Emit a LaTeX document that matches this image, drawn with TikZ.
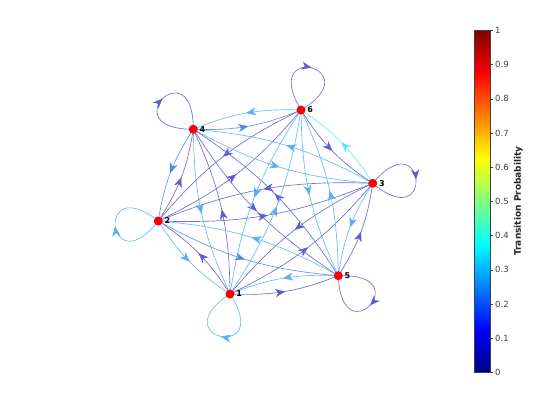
\documentclass[tikz,border=0pt]{standalone}
\usepackage{fontspec}
\setmainfont{DejaVu Sans}
\usetikzlibrary{arrows.meta,decorations.markings,calc}

\definecolor{eD}{RGB}{110,110,216}
\definecolor{eDa}{RGB}{94,94,206}
\definecolor{eM}{RGB}{96,148,240}
\definecolor{eMa}{RGB}{82,134,232}
\definecolor{eL}{RGB}{102,186,255}
\definecolor{eLa}{RGB}{90,174,248}
\definecolor{eC}{RGB}{112,236,242}
\definecolor{eCa}{RGB}{98,228,236}
\definecolor{jet0}{rgb}{0,0,0.5}
\definecolor{jet1}{rgb}{0,0,1}
\definecolor{jet2}{rgb}{0,1,1}
\definecolor{jet3}{rgb}{1,1,0}
\definecolor{jet4}{rgb}{1,0,0}
\definecolor{jet5}{rgb}{0.5,0,0}
\definecolor{tickgray}{RGB}{64,64,64}

\tikzset{
  tipD/.style={postaction={decorate,decoration={markings,mark=at position 0.5 with {\arrow[eDa]{Stealth[length=10pt,width=8pt,inset=3pt]}}}}},
  tipM/.style={postaction={decorate,decoration={markings,mark=at position 0.5 with {\arrow[eMa]{Stealth[length=10pt,width=8pt,inset=3pt]}}}}},
  tipL/.style={postaction={decorate,decoration={markings,mark=at position 0.5 with {\arrow[eLa]{Stealth[length=10pt,width=8pt,inset=3pt]}}}}},
  tipC/.style={postaction={decorate,decoration={markings,mark=at position 0.5 with {\arrow[eCa]{Stealth[length=10pt,width=8pt,inset=3pt]}}}}},
  edgeD/.style={draw=eD,line width=0.65pt,tipD},
  edgeM/.style={draw=eM,line width=0.65pt,tipM},
  edgeL/.style={draw=eL,line width=0.65pt,tipL},
  edgeC/.style={draw=eC,line width=0.65pt,tipC},
  bendy/.style={bend right=12},
  vtx/.style={circle,fill=red,inner sep=0pt,minimum size=9pt},
  vlbl/.style={font=\fontsize{8}{9}\selectfont\bfseries,text=black,inner sep=1pt},
  ticklbl/.style={font=\fontsize{8.5}{9}\selectfont,text=tickgray,anchor=west,inner sep=0pt}
}

\begin{document}
\begin{tikzpicture}[x=1pt,y=-1pt]
\useasboundingbox (0,0) rectangle (560,420);
\fill[white] (0,0) rectangle (560,420);

% vertex positions
\coordinate (n1) at (230,294);
\coordinate (n2) at (158.3,221);
\coordinate (n3) at (372.7,183.3);
\coordinate (n4) at (193.3,129.3);
\coordinate (n5) at (338.3,275.7);
\coordinate (n6) at (301,110);

% self loops
\draw[edgeL] (n1) .. controls +(57:82) and +(147:82) .. (n1);
\draw[edgeL] (n2) .. controls +(128:82) and +(218:82) .. (n2);
\draw[edgeD] (n3) .. controls +(-50:82) and +(40:82) .. (n3);
\draw[edgeD] (n4) .. controls +(180:82) and +(270:82) .. (n4);
\draw[edgeD] (n5) .. controls +(-2:82) and +(88:82) .. (n5);
\draw[edgeD] (n6) .. controls +(-121:82) and +(-31:82) .. (n6);

% edges between vertices
\draw[edgeD] (n1) to[bendy] (n2);
\draw[edgeL] (n2) to[bendy] (n1);
\draw[edgeD] (n2) to[bendy] (n4);
\draw[edgeM] (n4) to[bendy] (n2);
\draw[edgeL] (n4) to[bendy] (n1);
\draw[edgeD] (n1) to[bendy] (n4);
\draw[edgeD] (n2) to[bendy] (n6);
\draw[edgeD] (n6) to[bendy] (n2);
\draw[edgeL] (n6) to[bendy] (n4);
\draw[edgeM] (n4) to[bendy] (n6);
\draw[edgeL] (n3) to[bendy] (n4);
\draw[edgeL] (n4) to[bendy] (n3);
\draw[edgeD] (n6) to[bendy] (n3);
\draw[edgeC] (n3) to[bendy] (n6);
\draw[edgeL] (n3) to[bendy] (n5);
\draw[edgeD] (n5) to[bendy] (n3);
\draw[edgeD] (n1) to[bendy] (n5);
\draw[edgeL] (n5) to[bendy] (n1);
\draw[edgeD] (n1) to[bendy] (n3);
\draw[edgeD] (n3) to[bendy] (n1);
\draw[edgeD] (n4) to[bendy] (n5);
\draw[edgeD] (n5) to[bendy] (n4);
\draw[edgeL] (n1) to[bendy] (n6);
\draw[edgeL] (n6) to[bendy] (n1);
\draw[edgeD] (n2) to[bendy] (n3);
\draw[edgeD] (n3) to[bendy] (n2);
\draw[edgeM] (n2) to[bendy] (n5);
\draw[edgeL] (n5) to[bendy] (n2);
\draw[edgeL] (n6) to[bendy] (n5);
\draw[edgeL] (n5) to[bendy] (n6);

% vertex markers
\node[vtx,label={[vlbl,label distance=0.5pt]0:1}] (v1) at (n1) {};
\node[vtx,label={[vlbl,label distance=0.5pt]0:2}] (v2) at (n2) {};
\node[vtx,label={[vlbl,label distance=0.5pt]0:3}] (v3) at (n3) {};
\node[vtx,label={[vlbl,label distance=0.5pt]0:4}] (v4) at (n4) {};
\node[vtx,label={[vlbl,label distance=0.5pt]0:5}] (v5) at (n5) {};
\node[vtx,label={[vlbl,label distance=0.5pt]0:6}] (v6) at (n6) {};

% colorbar
\shade[bottom color=jet0,top color=jet1] (474,372.5) rectangle (490,329.75);
\shade[bottom color=jet1,top color=jet2] (474,329.9) rectangle (490,244.25);
\shade[bottom color=jet2,top color=jet3] (474,244.4) rectangle (490,158.75);
\shade[bottom color=jet3,top color=jet4] (474,158.9) rectangle (490,73.25);
\shade[bottom color=jet4,top color=jet5] (474,73.4) rectangle (490,30.5);
\draw[line width=0.6pt,draw=tickgray] (474,30.5) rectangle (490,372.5);
\foreach \p/\t in {0/0,1/0.1,2/0.2,3/0.3,4/0.4,5/0.5,6/0.6,7/0.7,8/0.8,9/0.9,10/1}{
  \draw[line width=0.5pt,draw=tickgray] (490,372.5-34.2*\p) -- (493,372.5-34.2*\p);
  \node[ticklbl] (tk\p) at (495,372.5-34.2*\p) {\t};
}
\node[rotate=90,font=\fontsize{9}{10}\selectfont\bfseries,text=black!85] (cbl) at (518.5,201) {Transition Probability};
\end{tikzpicture}
\end{document}
